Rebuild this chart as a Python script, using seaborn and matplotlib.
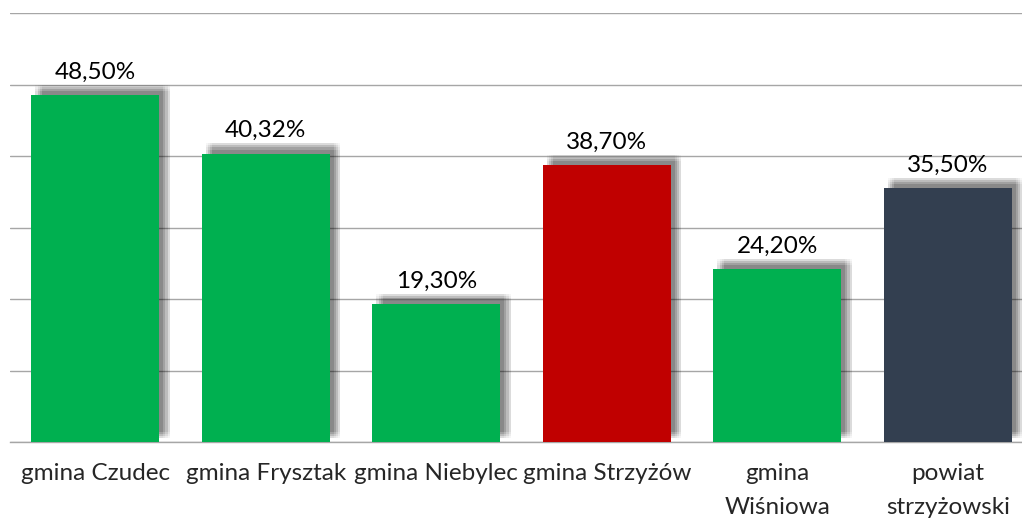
import matplotlib
matplotlib.use("Agg")
import matplotlib.pyplot as plt
import matplotlib.patheffects as pe
import seaborn as sns
import pandas as pd

categories = ["gmina Czudec", "gmina Frysztak", "gmina Niebylec", "gmina Strzyżów",
              "gmina\nWiśniowa", "powiat\nstrzyżowski"]
values = [48.50, 40.32, 19.30, 38.70, 24.20, 35.50]
labels = ["48,50%", "40,32%", "19,30%", "38,70%", "24,20%", "35,50%"]
colors = ["#00b050", "#00b050", "#00b050", "#c00000", "#00b050", "#333f50"]

df = pd.DataFrame({"kat": categories, "val": values})

sns.set_style("white")
plt.rcParams["font.family"] = ["Lato", "DejaVu Sans"]

fig = plt.figure(figsize=(10.22, 5.21), dpi=100)
ax = fig.add_axes([10 / 1022, 1 - 442 / 521, 1023 / 1022, 429 / 521])

sns.barplot(data=df, x="kat", y="val", hue="kat", palette=colors, legend=False,
            width=0.75, saturation=1, linewidth=0, ax=ax, zorder=3)

# soft drop shadow made of several offset layers
offs = [(dx, dy) for dx in (3, 4.5, 6, 7.5) for dy in (3, 4.5, 6, 7.5)]
shadow = [pe.SimplePatchShadow(offset=o, shadow_rgbFace="#000000", alpha=0.035)
          for o in offs]
for p in ax.patches:
    p.set_path_effects(shadow + [pe.Normal()])

for i, (v, t) in enumerate(zip(values, labels)):
    ax.annotate(t, (i, v), xytext=(0, 9), textcoords="offset points",
                ha="center", va="bottom", fontsize=17.5, color="#000000")

ax.set_ylim(0, 60)
ax.set_xlim(-0.5, 5.5)
ax.set_yticks(range(0, 61, 10))
ax.yaxis.grid(True, color="#a6a6a6", linewidth=1)
ax.set_axisbelow(True)
ax.tick_params(axis="y", left=False, labelleft=False)
for s in ["top", "right", "left"]:
    ax.spines[s].set_visible(False)
ax.spines["bottom"].set_color("#a6a6a6")
ax.spines["bottom"].set_linewidth(1)

ax.set_xticks([i - 0.5 for i in range(7)], minor=True)
ax.tick_params(axis="x", which="minor", length=6, color="#a6a6a6", width=1)
ax.tick_params(axis="x", which="major", length=0, pad=15, labelsize=17.5)
for lbl in ax.get_xticklabels():
    lbl.set_verticalalignment("top")
    lbl.set_linespacing(1.75)
ax.set_xlabel("")
ax.set_ylabel("")

fig.savefig("out.png", dpi=100)
